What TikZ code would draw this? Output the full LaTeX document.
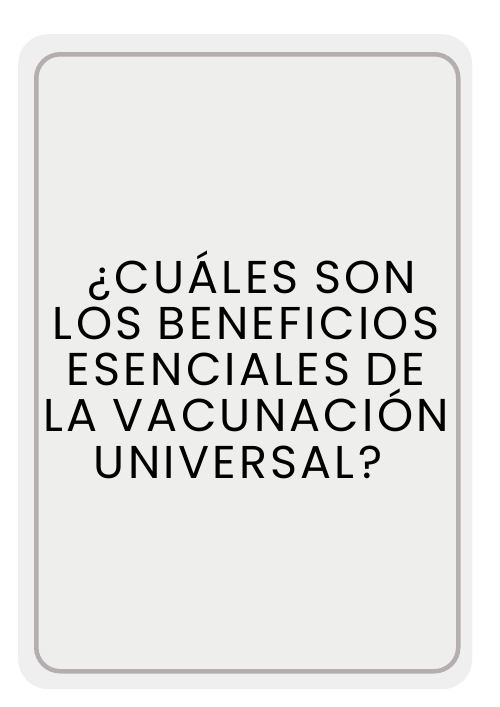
\documentclass[tikz,border=0pt]{standalone}
\usepackage{fontspec}
\setmainfont{Poppins}[LetterSpace=7]
\definecolor{cardbg}{RGB}{239,239,239}
\definecolor{cardfill}{RGB}{238,238,236}
\definecolor{cardline}{RGB}{180,174,174}
\begin{document}
\begin{tikzpicture}[x=1pt,y=-1pt,
  outercard/.style={fill=cardbg,draw=none,rounded corners=30pt},
  innercard/.style={fill=cardfill,draw=cardline,line width=4.5pt,rounded corners=24pt},
  titletext/.style={font=\fontsize{46}{46.25}\selectfont,align=center,text=black,inner sep=0pt,anchor=base}]
\fill[white] (0,0) rectangle (500,707);
\useasboundingbox (0,0) rectangle (500,707);
\node[outercard,minimum width=454pt,minimum height=655pt,anchor=north west,inner sep=0pt] (outer) at (18,34) {};
\node[innercard,minimum width=422pt,minimum height=617pt,anchor=north west,inner sep=0pt] (inner) at (34,52) {};
\node[titletext] (title) at (246,478) {\hspace*{12pt}¿CUÁLES SON\\LOS BENEFICIOS\\ESENCIALES DE\\LA VACUNACIÓN\\UNIVERSAL?\hspace*{16pt}};
\end{tikzpicture}
\end{document}
